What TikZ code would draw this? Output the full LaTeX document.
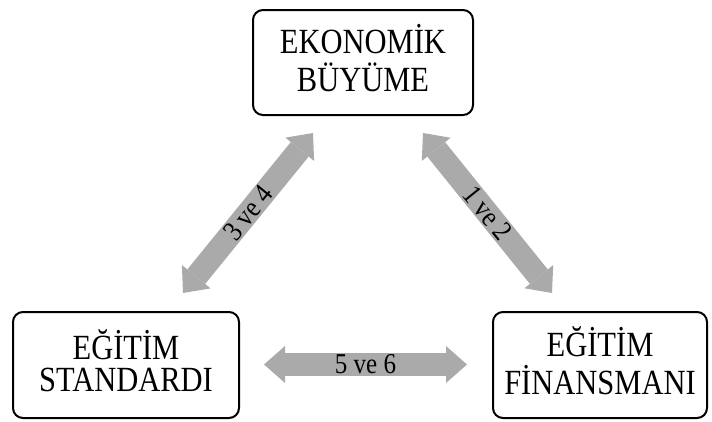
\documentclass[tikz,border=0pt]{standalone}
\usepackage{fontspec}
\usepackage{graphicx}
\setmainfont{Liberation Serif}
\usetikzlibrary{arrows.meta}
\definecolor{arrgray}{RGB}{170,170,170}
\newcommand\talltext[1]{\scalebox{1}[1.16]{\begin{tabular}{@{}c@{}}#1\end{tabular}}}
\tikzset{
  box/.style={draw=black, line width=2pt, rounded corners=10pt, align=center,
    inner sep=0pt, font=\fontsize{30.5}{26}\selectfont},
  dbl/.style={draw=arrgray, line width=23pt,
    arrows={Triangle[length=21pt,width=37pt,line width=0pt]-Triangle[length=21pt,width=37pt,line width=0pt]}},
  lbl/.style={font=\fontsize{25}{25}\selectfont, text=black, inner sep=0pt}
}
\begin{document}
\begin{tikzpicture}[x=1pt,y=-1pt]
\useasboundingbox (0,0) rectangle (712,421);
\node[box, minimum width=220pt, minimum height=105pt] (top) at (363,62.5) {\talltext{EKONOMİK\\BÜYÜME}};
\node[box, minimum width=226pt, minimum height=106pt] (left) at (126,365) {\talltext{EĞİTİM\\STANDARDI}};
\node[box, minimum width=214pt, minimum height=106pt] (right) at (600,365) {\talltext{EĞİTİM\\FİNANSMANI}};
\coordinate (l1) at (183,293);
\coordinate (l2) at (313,133);
\coordinate (r1) at (423,133);
\coordinate (r2) at (552,293);
\coordinate (h1) at (264,364.5);
\coordinate (h2) at (467,364.5);
\draw[dbl] (l1) -- node[lbl, sloped] {\scalebox{1}[1.15]{3 ve 4}} (l2);
\draw[dbl] (r1) -- node[lbl, sloped] {\scalebox{1}[1.15]{1 ve 2}} (r2);
\draw[dbl] (h1) -- node[lbl] {\scalebox{1}[1.15]{5 ve 6}} (h2);
\end{tikzpicture}
\end{document}
